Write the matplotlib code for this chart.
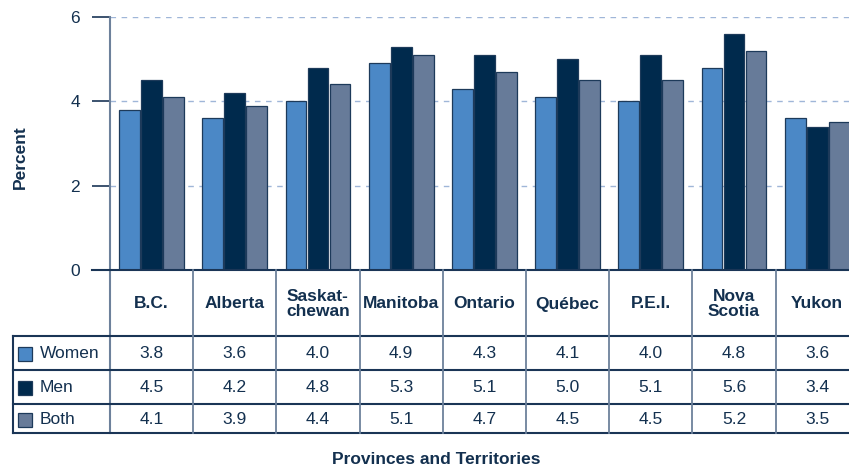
import numpy as np
import matplotlib.pyplot as plt

plt.rcParams['font.family'] = ['Liberation Sans', 'DejaVu Sans']

# data
provinces = ['B.C.', 'Alberta', 'Saskat-\nchewan', 'Manitoba', 'Ontario',
             'Québec', 'P.E.I.', 'Nova\nScotia', 'Yukon']
series_names = ['Women', 'Men', 'Both']
women = [3.8, 3.6, 4.0, 4.9, 4.3, 4.1, 4.0, 4.8, 3.6]
men = [4.5, 4.2, 4.8, 5.3, 5.1, 5.0, 5.1, 5.6, 3.4]
both = [4.1, 3.9, 4.4, 5.1, 4.7, 4.5, 4.5, 5.2, 3.5]
yticks = [0, 2, 4, 6]

colors = ['#4b88c6', '#002a4d', '#677b99']
text_col = '#13304f'
line_col = '#1a3556'
vline_col = '#6d819b'
fs = 12.5

W, H = 849, 467
col_left = 110
col_w = 83.2
top, base = 17, 270

fig = plt.figure(figsize=(W / 100, H / 100), dpi=100)
ax = fig.add_axes([col_left / W, (H - base) / H,
                   9 * col_w / W, (base - top) / H])

x = np.arange(len(provinces))
offsets = [-0.265, 0.0, 0.265]
for vals, off, c in zip([women, men, both], offsets, colors):
    ax.bar(x + off, vals, width=0.25, color=c, edgecolor='#1d3a5a',
           linewidth=0.9, zorder=3)

ax.set_xlim(-0.5, len(provinces) - 0.5)
ax.set_ylim(0, 6)
ax.set_yticks(yticks)
ax.set_yticklabels([str(t) for t in yticks], fontsize=fs, color=text_col)
ax.tick_params(axis='y', length=13, width=1.2, color=line_col, pad=8.5)
ax.set_xticks([])
for s in ['top', 'right', 'bottom', 'left']:
    ax.spines[s].set_visible(False)
for t in yticks[1:]:
    ax.axhline(t, color='#9fb6d8', linewidth=1, linestyle=(0, (4, 4)),
               zorder=1)

# overlay for table in pixel coordinates
ov = fig.add_axes([0, 0, 1, 1])
ov.set_xlim(0, W)
ov.set_ylim(H, 0)
ov.axis('off')

row_tops = [270, 336, 370, 404, 433]
right = col_left + 9 * col_w
# left spine through table
ov.plot([col_left, col_left], [top, row_tops[-1]], color=vline_col, lw=1.5)
# baseline
ov.plot([92, right], [base, base], color=line_col, lw=1.5)
for yy in row_tops[1:]:
    ov.plot([13, right], [yy, yy], color=line_col, lw=1.5)
ov.plot([13, 13], [row_tops[1], row_tops[-1]], color=line_col, lw=1.5)
for k in range(1, 10):
    xx = col_left + k * col_w
    ov.plot([xx, xx], [base, row_tops[-1]], color=vline_col, lw=1.3)

for i, name in enumerate(provinces):
    cx = col_left + (i + 0.5) * col_w
    ov.text(cx, (row_tops[0] + row_tops[1]) / 2 + 1, name, ha='center',
            va='center', fontsize=fs, fontweight='bold', color=text_col,
            linespacing=0.95)

for r, (name, vals, c) in enumerate(zip(series_names, [women, men, both],
                                        colors)):
    cy = (row_tops[r + 1] + row_tops[r + 2]) / 2 + 1
    ov.add_patch(plt.Rectangle((18, cy - 7), 14, 14, facecolor=c,
                               edgecolor='#1d3a5a', lw=0.9))
    ov.text(40, cy, name, ha='left', va='center', fontsize=fs,
            color=text_col)
    for i, v in enumerate(vals):
        cx = col_left + (i + 0.5) * col_w
        ov.text(cx, cy, f'{v:.1f}', ha='center', va='center', fontsize=fs,
                color=text_col)

ov.text(20, 157, 'Percent', rotation=90, ha='center', va='center',
        fontsize=fs, fontweight='bold', color=text_col)
ov.text(436, 460, 'Provinces and Territories', ha='center', va='center',
        fontsize=fs, fontweight='bold', color=text_col)

fig.savefig('out.png', dpi=100)
